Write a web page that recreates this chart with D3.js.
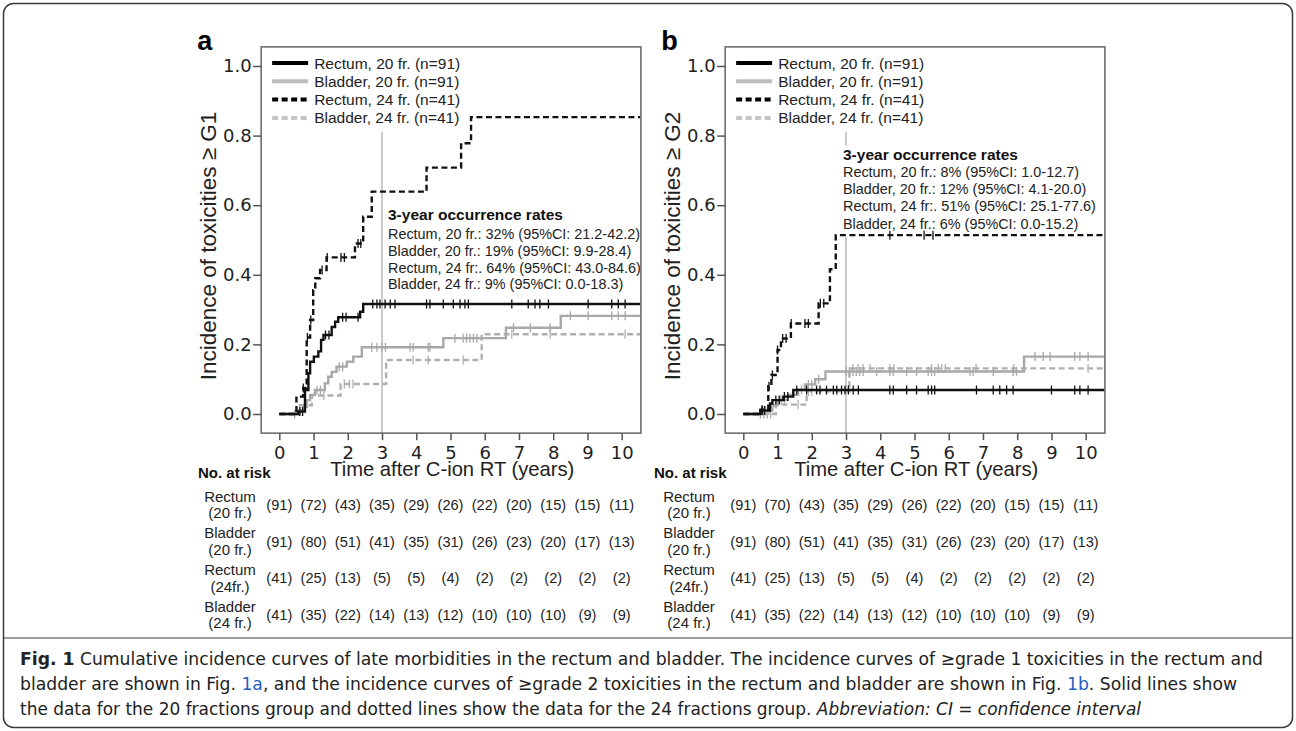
<!DOCTYPE html>
<html><head><meta charset="utf-8">
<script src="https://cdn.jsdelivr.net/npm/d3@7"></script>
<style>body{margin:0;background:#fff}</style>
</head><body>
<svg id="c" width="1296" height="731"></svg>
<script>
// ---------- data ----------
const xTicks = [0,1,2,3,4,5,6,7,8,9,10];
const yTicks = [0,0.2,0.4,0.6,0.8,1.0];
const legendLabels = ["Rectum, 20 fr. (n=91)","Bladder, 20 fr. (n=91)","Rectum, 24 fr. (n=41)","Bladder, 24 fr. (n=41)"];

// Panel a (>= G1): step points [time, incidence] and censor times
const aRectum20 = [[0,0],[0.55,0.007],[0.75,0.069],[0.85,0.117],[0.9,0.15],[1.01,0.165],[1.14,0.18],[1.22,0.213],[1.29,0.227],[1.53,0.25],[1.63,0.265],[1.72,0.278],[2.36,0.294],[2.45,0.316]];
const aRectum20Cens = [0.6,0.68,1.35,1.45,1.85,1.95,2.3,2.73,2.85,2.94,3.09,3.24,3.38,4.3,4.4,4.79,5.08,5.28,5.42,5.52,6.79,7.27,7.47,7.61,7.86,9.02,9.71,9.9,10.1];
const aBladder20 = [[0,0],[0.55,0.01],[0.7,0.02],[0.8,0.04],[0.9,0.055],[1.04,0.069],[1.33,0.088],[1.43,0.107],[1.53,0.121],[1.67,0.136],[1.97,0.15],[2.16,0.165],[2.41,0.192],[4.79,0.218],[6.62,0.248],[8.22,0.282]];
const aBladder20Cens = [0.45,0.6,1.1,1.2,1.75,1.85,2.7,2.85,3.0,3.1,3.82,3.91,4.35,4.4,5.13,5.37,5.47,5.57,5.67,5.77,6.84,7.33,7.91,8.5,9.02,9.71,9.9,10.1];
const aRectum24 = [[0,0],[0.5,0.05],[0.7,0.075],[0.8,0.22],[0.9,0.27],[0.99,0.356],[1.05,0.39],[1.19,0.414],[1.38,0.45],[2.21,0.49],[2.45,0.567],[2.7,0.639],[4.3,0.708],[5.31,0.778],[5.6,0.853]];
const aRectum24Cens = [0.7,0.82,0.92,1.25,1.4,1.8,1.9,2.3,2.38];
const aBladder24 = [[0,0],[0.6,0.025],[0.95,0.053],[1.79,0.086],[3.12,0.155],[5.91,0.229]];
const aBladder24Cens = [1.3,1.9,2.05,2.15,3.91,4.35,5.37,6.79,7.91,10.1];

// Panel b (>= G2)
const bRectum20 = [[0,0],[0.5,0.01],[0.78,0.03],[0.85,0.04],[1.17,0.05],[1.46,0.069]];
const bRectum20Cens = [0.55,0.62,0.95,1.05,1.2,1.3,1.56,1.85,2.14,2.24,2.43,2.63,2.73,2.87,2.97,3.07,3.21,3.36,4.28,4.38,4.77,5.06,5.4,5.5,5.59,6.81,7.3,7.49,7.69,7.88,9.0,9.68,9.83,10.07];
const bBladder20 = [[0,0],[0.6,0.01],[0.85,0.025],[1.0,0.04],[1.3,0.055],[1.6,0.07],[1.8,0.085],[2.1,0.1],[2.4,0.122],[8.2,0.165]];
const bBladder20Cens = [0.5,0.65,0.75,1.1,1.2,1.7,1.9,2.0,2.2,3.0,3.1,3.2,3.3,3.4,3.5,3.9,4.28,4.38,4.77,5.06,5.4,5.5,5.59,6.62,6.71,7.3,7.88,7.98,8.52,8.76,8.96,9.68,9.83,10.07];
const bRectum24 = [[0,0],[0.5,0.012],[0.73,0.08],[0.82,0.112],[1.0,0.184],[1.1,0.217],[1.39,0.26],[2.2,0.318],[2.53,0.416],[2.7,0.514]];
const bRectum24Cens = [0.55,0.75,0.85,1.0,1.15,1.25,1.4,1.8,1.9,2.25,2.35,4.28,5.28,5.54];
const bBladder24 = [[0,0],[0.95,0.027],[1.85,0.065],[3.1,0.131]];
const bBladder24Cens = [0.6,0.7,0.8,1.6,1.9,2.0,3.2,3.35,3.5,3.7,4.28,4.4,5.5,5.7,5.8,5.9,6.8,7.9,10.07];

const rateTitle = "3-year occurrence rates";
const aRates = ["Rectum, 20 fr.: 32% (95%CI: 21.2-42.2)","Bladder, 20 fr.: 19% (95%CI: 9.9-28.4)","Rectum, 24 fr:. 64% (95%CI: 43.0-84.6)","Bladder, 24 fr.: 9% (95%CI: 0.0-18.3)"];
const bRates = ["Rectum, 20 fr.: 8% (95%CI: 1.0-12.7)","Bladder, 20 fr.: 12% (95%CI: 4.1-20.0)","Rectum, 24 fr:. 51% (95%CI: 25.1-77.6)","Bladder, 24 fr.: 6% (95%CI: 0.0-15.2)"];

const riskLabels = [["Rectum","(20 fr.)"],["Bladder","(20 fr.)"],["Rectum","(24fr.)"],["Bladder","(24 fr.)"]];
const aRiskRectum20 = [91,72,43,35,29,26,22,20,15,15,11];
const aRiskBladder20 = [91,80,51,41,35,31,26,23,20,17,13];
const aRiskRectum24 = [41,25,13,5,5,4,2,2,2,2,2];
const aRiskBladder24 = [41,35,22,14,13,12,10,10,10,9,9];
const bRiskRectum20 = [91,70,43,35,29,26,22,20,15,15,11];
const bRiskBladder20 = [91,80,51,41,35,31,26,23,20,17,13];
const bRiskRectum24 = [41,25,13,5,5,4,2,2,2,2,2];
const bRiskBladder24 = [41,35,22,14,13,12,10,10,10,9,9];

// ---------- drawing ----------
const SANS = "'Liberation Sans', Arial, Helvetica, sans-serif";
const DJ = "'DejaVu Sans', sans-serif";
const svg = d3.select("#c");
svg.append("rect").attr("width",1296).attr("height",731).attr("fill","#fff");

const xMin = -0.53, xMax = 10.56, yMin = -0.055, yMax = 1.055;
const x = d3.scaleLinear().domain([0,10]).range([279.3,621.7]);
const y = d3.scaleLinear().domain([0,1]).range([414,66]);

// styles: order = Rectum20, Bladder20, Rectum24, Bladder24
const curveStyle = [
  {c:"#111", dash:null},
  {c:"#a8a8a8", dash:null},
  {c:"#111", dash:"6,3.5"},
  {c:"#b0b0b0", dash:"6,3.5"}
];
const legendStyle = [
  {c:"#000", dash:null},
  {c:"#bdbdbd", dash:null},
  {c:"#000", dash:"6,3.5"},
  {c:"#c4c4c4", dash:"6,3.5"}
];

function stepValue(pts, t){
  let v = 0;
  for (const p of pts) { if (p[0] <= t) v = p[1]; }
  return v;
}

function panel(cfg){
  const g = svg.append("g").attr("transform",`translate(${cfg.dx},0)`);
  const fx0 = x(xMin), fx1 = x(xMax), fy0 = y(yMax), fy1 = y(yMin);

  // panel letter
  g.append("text").attr("x",fx0-64).attr("y",50).text(cfg.letter)
    .attr("font-family",SANS).attr("font-weight","bold").attr("font-size",27).attr("fill","#000");

  // 3-year reference line
  g.append("line").attr("x1",x(3)).attr("x2",x(3)).attr("y1",y(0.81)).attr("y2",fy1)
    .attr("stroke","#8a8a8a").attr("stroke-width",0.9);

  // annotation
  const ann = g.append("g");
  if (cfg.annBox) {
    ann.append("rect").attr("x",cfg.annX-2).attr("y",cfg.annY-14).attr("width",262).attr("height",cfg.annGap*4+22).attr("fill","#fff");
  }
  ann.append("text").attr("x",cfg.annX).attr("y",cfg.annY).text(rateTitle)
    .attr("font-family",SANS).attr("font-weight","bold").attr("font-size",15.5).attr("fill","#111");
  cfg.rates.forEach((r,i)=>{
    ann.append("text").attr("x",cfg.annX).attr("y",cfg.annY+cfg.annFirst+i*cfg.annGap).text(r)
      .attr("font-family",SANS).attr("font-size",14.4).attr("fill","#222");
  });

  // curves
  const clipId = "clip"+cfg.letter;
  g.append("clipPath").attr("id",clipId).append("rect")
    .attr("x",fx0).attr("y",fy0).attr("width",fx1-fx0).attr("height",fy1-fy0);
  const cg = g.append("g").attr("clip-path",`url(#${clipId})`);
  const line = d3.line().x(d=>x(d[0])).y(d=>y(d[1])).curve(d3.curveStepAfter);
  const order = [3,1,2,0];
  order.forEach(i=>{
    const s = cfg.series[i], st = curveStyle[i];
    const pts = s.pts.concat([[xMax+0.2, s.pts[s.pts.length-1][1]]]);
    const p = cg.append("path").attr("d",line(pts)).attr("fill","none")
      .attr("stroke",st.c).attr("stroke-width",2.4);
    if (st.dash) p.attr("stroke-dasharray",st.dash);
    cg.selectAll(null).data(s.cens).enter().append("line")
      .attr("x1",d=>x(d)).attr("x2",d=>x(d))
      .attr("y1",d=>y(stepValue(s.pts,d))-4.5).attr("y2",d=>y(stepValue(s.pts,d))+4.5)
      .attr("stroke",st.c).attr("stroke-width",1.3);
  });

  // frame
  g.append("rect").attr("x",fx0).attr("y",fy0).attr("width",fx1-fx0).attr("height",fy1-fy0)
    .attr("fill","none").attr("stroke","#6e6e6e").attr("stroke-width",1.6);

  // axes
  const ay = g.append("g").attr("transform",`translate(${fx0},0)`)
    .call(d3.axisLeft(y).tickValues(yTicks).tickFormat(d3.format(".1f")).tickSize(8).tickPadding(1.5));
  const ax = g.append("g").attr("transform",`translate(0,${fy1})`)
    .call(d3.axisBottom(x).tickValues(xTicks).tickFormat(d3.format("d")).tickSize(7).tickPadding(6));
  [ay,ax].forEach(a=>{
    a.select(".domain").remove();
    a.selectAll(".tick line").attr("stroke","#555").attr("stroke-width",1.5);
    a.selectAll(".tick text").attr("font-family",DJ).attr("font-size",18).attr("fill","#222");
  });

  // axis titles
  g.append("text").attr("x",x(5.05)).attr("y",476).attr("text-anchor","middle")
    .text("Time after C-ion RT (years)").attr("font-family",SANS).attr("font-size",20.2).attr("fill","#222");
  g.append("text").attr("transform",`translate(${fx0-53},246) rotate(-90)`).attr("text-anchor","middle")
    .attr("dominant-baseline","central")
    .text(cfg.ytitle).attr("font-family",SANS).attr("font-size",22.5).attr("fill","#222");

  // legend
  const lg = g.append("g");
  legendLabels.forEach((lab,i)=>{
    const ly = 63 + i*18.3;
    const st = legendStyle[i];
    const l = lg.append("line").attr("x1",fx0+11).attr("x2",fx0+47).attr("y1",ly).attr("y2",ly)
      .attr("stroke",st.c).attr("stroke-width",4);
    if (st.dash) l.attr("stroke-dasharray",st.dash);
    lg.append("text").attr("x",fx0+53).attr("y",ly+5.5).text(lab)
      .attr("font-family",SANS).attr("font-size",15.5).attr("fill","#222");
  });

  // risk table
  g.append("text").attr("x",cfg.riskHeadX).attr("y",478).text("No. at risk")
    .attr("font-family",SANS).attr("font-weight","bold").attr("font-size",15).attr("fill","#111");
  cfg.risk.forEach((row,r)=>{
    const cy = 505 + r*36.7;
    g.append("text").attr("x",cfg.riskLabX).attr("y",cy-8.3+5).attr("text-anchor","middle")
      .text(riskLabels[r][0]).attr("font-family",SANS).attr("font-size",15).attr("fill","#222");
    g.append("text").attr("x",cfg.riskLabX).attr("y",cy+8.3+5).attr("text-anchor","middle")
      .text(riskLabels[r][1]).attr("font-family",SANS).attr("font-size",15).attr("fill","#222");
    g.selectAll(null).data(row).enter().append("text")
      .attr("x",(d,i)=>x(xTicks[i])).attr("y",cy+5).attr("text-anchor","middle")
      .text(d=>"("+d+")").attr("font-family",SANS).attr("font-size",14.6).attr("fill","#222");
  });
}

panel({
  dx:0, letter:"a", ytitle:"Incidence of toxicities \u2265 G1",
  series:[{pts:aRectum20,cens:aRectum20Cens},{pts:aBladder20,cens:aBladder20Cens},{pts:aRectum24,cens:aRectum24Cens},{pts:aBladder24,cens:aBladder24Cens}],
  rates:aRates, annX:388, annY:220, annFirst:19, annGap:16.8, annBox:false,
  risk:[aRiskRectum20,aRiskBladder20,aRiskRectum24,aRiskBladder24],
  riskHeadX:198, riskLabX:230
});
panel({
  dx:464, letter:"b", ytitle:"Incidence of toxicities \u2265 G2",
  series:[{pts:bRectum20,cens:bRectum20Cens},{pts:bBladder20,cens:bBladder20Cens},{pts:bRectum24,cens:bRectum24Cens},{pts:bBladder24,cens:bBladder24Cens}],
  rates:bRates, annX:379, annY:159.5, annFirst:17, annGap:17.4, annBox:true,
  risk:[bRiskRectum20,bRiskBladder20,bRiskRectum24,bRiskBladder24],
  riskHeadX:190, riskLabX:225
});

// outer border & caption
svg.append("rect").attr("x",3.5).attr("y",3.5).attr("width",1289).attr("height",724).attr("rx",10)
  .attr("fill","none").attr("stroke","#3a3a3a").attr("stroke-width",1.5);
svg.append("line").attr("x1",3.5).attr("x2",1292.5).attr("y1",638).attr("y2",638)
  .attr("stroke","#3a3a3a").attr("stroke-width",1);

const CAP = "'Liberation Sans Narrow','DejaVu Sans Condensed','Liberation Sans',Arial,sans-serif";
function capLine(yy, len){
  return svg.append("text").attr("x",20).attr("y",yy).attr("font-family",CAP).attr("font-size",17.5)
    .attr("fill","#222").attr("textLength",len).attr("lengthAdjust","spacingAndGlyphs");
}
const c1 = capLine(665,1243);
c1.append("tspan").attr("font-weight","bold").text("Fig. 1");
c1.append("tspan").text(" Cumulative incidence curves of late morbidities in the rectum and bladder. The incidence curves of \u2265grade 1 toxicities in the rectum and");
const c2 = capLine(690,1217);
c2.append("tspan").text("bladder are shown in Fig. ");
c2.append("tspan").attr("fill","#1f5fbf").text("1a");
c2.append("tspan").text(", and the incidence curves of \u2265grade 2 toxicities in the rectum and bladder are shown in Fig. ");
c2.append("tspan").attr("fill","#1f5fbf").text("1b");
c2.append("tspan").text(". Solid lines show");
const c3 = capLine(715,1121);
c3.append("tspan").text("the data for the 20 fractions group and dotted lines show the data for the 24 fractions group. ");
c3.append("tspan").attr("font-style","italic").text("Abbreviation: CI = confidence interval");
</script>
</body></html>
